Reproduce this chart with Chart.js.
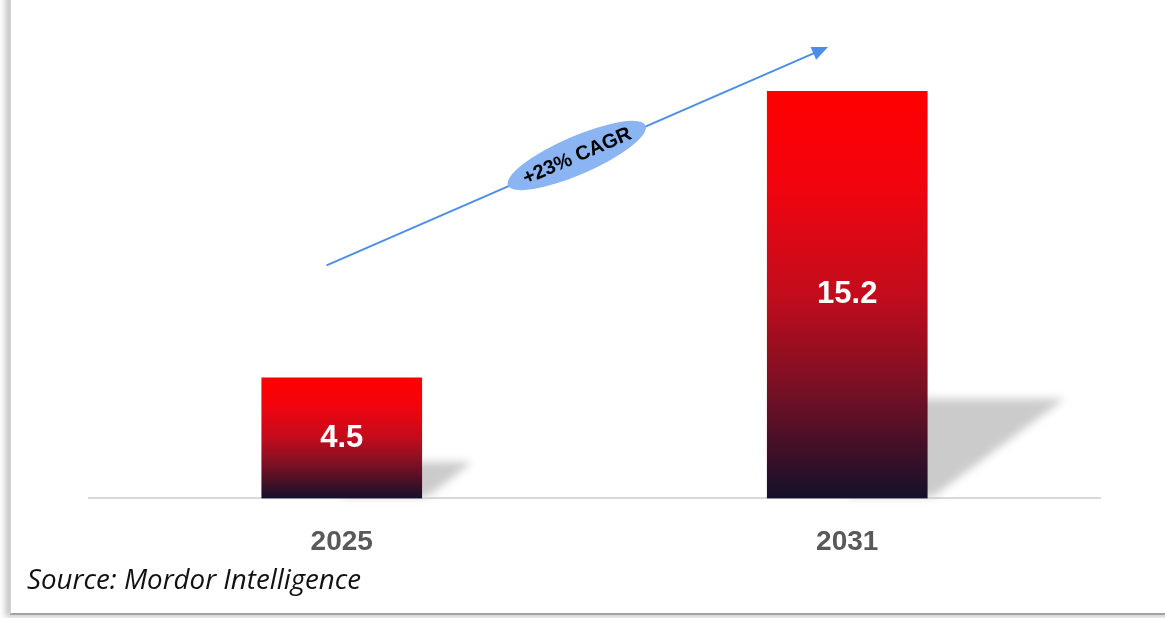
<!DOCTYPE html>
<html>
<head>
<meta charset="utf-8">
<script src="https://cdn.jsdelivr.net/npm/chart.js@4.4.1/dist/chart.umd.min.js"></script>
<style>
  html, body { margin: 0; padding: 0; background: #fff; overflow: hidden; }
  body { width: 1165px; height: 618px; position: relative; }
  .frame {
    position: absolute; left: 10px; top: -20px; width: 1200px; height: 633px;
    background: #fff;
    border-left: 1px solid #d4d4d4;
    border-bottom: 2px solid #a3a3a3;
    box-shadow: -5px 2px 6px rgba(0, 0, 0, 0.22);
  }
  #wrap { position: absolute; left: 0; top: 0; width: 1165px; height: 618px; }
  .source {
    position: absolute; left: 27px; top: 559px;
    font-family: "Open Sans", sans-serif; font-style: italic; font-size: 27.7px;
    color: #111;
  }
</style>
</head>
<body>
<div class="frame"></div>
<div id="wrap"><canvas id="chart"></canvas></div>
<div class="source">Source: Mordor Intelligence</div>

<script>
// chart data
const years = ['2025', '2031'];
const marketValues = [4.5, 15.2];
const cagrLabel = '+23% CAGR';

// bar fill: red at the top fading to near black at the base
function barGradient(context) {
  const chart = context.chart;
  const yScale = chart.scales.y;
  if (!chart.chartArea || !yScale || context.raw === undefined) return '#c00c1c';
  const top = yScale.getPixelForValue(context.raw);
  const base = yScale.getPixelForValue(0);
  const g = chart.ctx.createLinearGradient(0, top, 0, base);
  g.addColorStop(0, '#ff0000');
  g.addColorStop(0.22, '#f3040e');
  g.addColorStop(0.5, '#c20c1c');
  g.addColorStop(0.72, '#7c1024');
  g.addColorStop(1, '#14102a');
  return g;
}

// soft perspective shadow behind each bar
const barShadow = {
  id: 'barShadow',
  beforeDatasetsDraw(chart) {
    const ctx = chart.ctx;
    chart.getDatasetMeta(0).data.forEach(bar => {
      const h = bar.base - bar.y;
      const sh = 0.22 * h + 10;
      const ext = 1.38 * sh;
      const right = bar.x + bar.width / 2;
      ctx.save();
      ctx.filter = 'blur(4px)';
      ctx.fillStyle = '#cbcbcb';
      ctx.beginPath();
      ctx.moveTo(bar.x, bar.base - sh);
      ctx.lineTo(right + ext, bar.base - sh);
      ctx.lineTo(right + 6, bar.base - 2);
      ctx.lineTo(bar.x, bar.base - 2);
      ctx.closePath();
      ctx.fill();
      ctx.restore();
    });
  }
};

// white value labels in the middle of the bars
const valueLabels = {
  id: 'valueLabels',
  afterDatasetsDraw(chart) {
    const ctx = chart.ctx;
    ctx.save();
    ctx.fillStyle = '#ffffff';
    ctx.font = 'bold 31px "Liberation Sans", Arial, sans-serif';
    ctx.textAlign = 'center';
    ctx.textBaseline = 'middle';
    chart.getDatasetMeta(0).data.forEach((bar, i) => {
      ctx.fillText(marketValues[i].toFixed(1), bar.x, (bar.y + bar.base) / 2);
    });
    ctx.restore();
  }
};

// growth arrow with the CAGR badge
const cagrArrow = {
  id: 'cagrArrow',
  afterDraw(chart) {
    const { x, y } = chart.scales;
    const ctx = chart.ctx;
    const x0 = x.getPixelForValue(-0.03), y0 = y.getPixelForValue(8.7);
    const x1 = x.getPixelForValue(0.962), y1 = y.getPixelForValue(16.85);
    const ang = Math.atan2(y1 - y0, x1 - x0);
    ctx.save();
    ctx.strokeStyle = '#4a8ee8';
    ctx.fillStyle = '#4a8ee8';
    ctx.lineWidth = 2;
    ctx.beginPath();
    ctx.moveTo(x0, y0);
    ctx.lineTo(x1 - 12 * Math.cos(ang), y1 - 12 * Math.sin(ang));
    ctx.stroke();
    ctx.translate(x1, y1);
    ctx.rotate(ang);
    ctx.beginPath();
    ctx.moveTo(0, 0);
    ctx.lineTo(-16, -7);
    ctx.lineTo(-16, 7);
    ctx.closePath();
    ctx.fill();
    ctx.restore();

    const cx = x.getPixelForValue(0.465), cy = y.getPixelForValue(12.8);
    ctx.save();
    ctx.translate(cx, cy);
    ctx.rotate(ang);
    ctx.fillStyle = '#8ab4f2';
    ctx.beginPath();
    ctx.ellipse(0, 0, 75, 19, 0, 0, Math.PI * 2);
    ctx.fill();
    ctx.fillStyle = '#000000';
    ctx.font = 'bold 20px "Liberation Sans", Arial, sans-serif';
    ctx.textAlign = 'center';
    ctx.textBaseline = 'middle';
    ctx.fillText(cagrLabel, 0, 1);
    ctx.restore();
  }
};

new Chart(document.getElementById('chart'), {
  type: 'bar',
  data: {
    labels: years,
    datasets: [{
      data: marketValues,
      backgroundColor: barGradient,
      borderWidth: 0,
      barThickness: 160
    }]
  },
  options: {
    responsive: true,
    maintainAspectRatio: false,
    animation: false,
    layout: { padding: { left: 89, right: 65, top: 43, bottom: 32 } },
    plugins: {
      legend: { display: false },
      tooltip: { enabled: false }
    },
    scales: {
      x: {
        grid: { display: false, drawTicks: false },
        border: { display: true, color: '#d9d9d9', width: 2 },
        ticks: {
          color: '#595959',
          padding: 27,
          font: { family: '"Liberation Sans", Arial, sans-serif', size: 28, weight: 'bold' }
        }
      },
      y: {
        display: false,
        min: 0,
        max: 17
      }
    }
  },
  plugins: [barShadow, valueLabels, cagrArrow]
});
</script>
</body>
</html>
